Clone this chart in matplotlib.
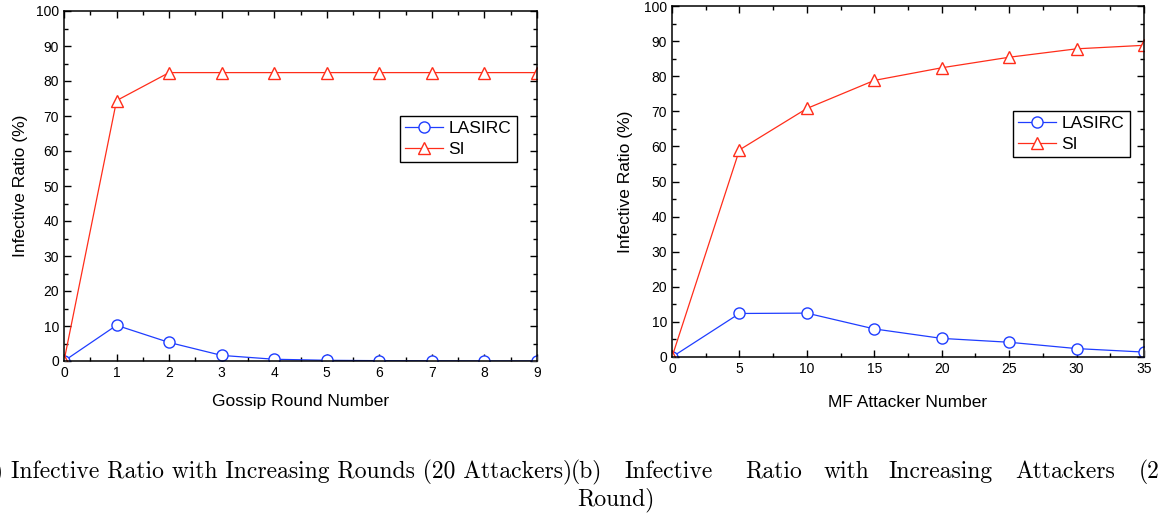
import matplotlib
matplotlib.use("Agg")
import matplotlib.pyplot as plt
from matplotlib.ticker import MultipleLocator

# data
rounds = [0, 1, 2, 3, 4, 5, 6, 7, 8, 9]
lasirc_rounds = [0, 10.2, 5.3, 1.6, 0.5, 0.2, 0.1, 0.05, 0, 0]
si_rounds = [0, 74.4, 82.4, 82.4, 82.4, 82.4, 82.4, 82.4, 82.4, 82.4]

attackers = [0, 5, 10, 15, 20, 25, 30, 35]
lasirc_att = [0, 12.4, 12.5, 8.0, 5.3, 4.2, 2.4, 1.4]
si_att = [0, 59.0, 70.8, 78.8, 82.4, 85.4, 87.8, 88.8]

blue = '#1f3dff'
red = '#ff2d1a'

plt.rcParams['font.family'] = 'Liberation Sans'

fig = plt.figure(figsize=(11.58, 5.14), dpi=100)
W, H = 1158, 514


def box(x0, y0, x1, y1):
    return [x0 / W, 1 - y1 / H, (x1 - x0) / W, (y1 - y0) / H]


def style(ax, xmajor, xminor, xlabel, xpad, ypad):
    ax.set_ylim(0, 100)
    ax.xaxis.set_major_locator(MultipleLocator(xmajor))
    ax.xaxis.set_minor_locator(MultipleLocator(xminor))
    ax.yaxis.set_major_locator(MultipleLocator(10))
    ax.yaxis.set_minor_locator(MultipleLocator(5))
    ax.tick_params(which='both', direction='in', top=True, right=True, labelsize=10, width=1)
    ax.tick_params(which='major', length=5)
    ax.tick_params(which='minor', length=3)
    for s in ax.spines.values():
        s.set_linewidth(1.1)
    ax.set_xlabel(xlabel, fontsize=12.5, labelpad=xpad)
    ax.set_ylabel('Infective Ratio (%)', fontsize=12.5, labelpad=ypad)


def add_legend(ax, anchor):
    leg = ax.legend(loc='upper left', bbox_to_anchor=anchor, fontsize=12.5, fancybox=False,
                    edgecolor='black', framealpha=1, handlelength=2.2, handletextpad=0.3,
                    borderpad=0.3, labelspacing=0.3, borderaxespad=0)
    leg.get_frame().set_linewidth(1)


ax1 = fig.add_axes(box(64, 11, 537, 361))
ax1.plot(rounds, lasirc_rounds, color=blue, lw=0.9, marker='o', ms=8, mfc='white', mec=blue, mew=1, label='LASIRC')
ax1.plot(rounds, si_rounds, color=red, lw=0.9, marker='^', ms=9, mfc='white', mec=red, mew=1, label='SI')
ax1.set_xlim(0, 9)
style(ax1, 1, 0.5, 'Gossip Round Number', 10, 6)
add_legend(ax1, ((400 - 64) / 473, (361 - 116) / 350))

ax2 = fig.add_axes(box(672, 6, 1144, 357))
ax2.plot(attackers, lasirc_att, color=blue, lw=0.9, marker='o', ms=8, mfc='white', mec=blue, mew=1, label='LASIRC')
ax2.plot(attackers, si_att, color=red, lw=0.9, marker='^', ms=9, mfc='white', mec=red, mew=1, label='SI')
ax2.set_xlim(0, 35)
style(ax2, 5, 2.5, 'MF Attacker Number', 14, 8)
add_legend(ax2, ((1013 - 672) / 472, (357 - 111) / 351))

# caption (cropped on both sides, as in the reference)
cap = dict(fontname='cmr10', fontsize=17, va='baseline')
y1 = 1 - 478 / H
fig.text(4 / W, y1, '(a)', ha='right', **cap)
fig.text(11 / W, y1, 'Infective Ratio with Increasing Rounds (20 Attackers)', **cap)
words = [('(b)', 571), ('Infective', 624), ('Ratio', 745), ('with', 824), ('Increasing', 888),
         ('Attackers', 1015), ('(2', 1139)]
for w, x in words:
    fig.text(x / W, y1, w, **cap)
fig.text(577 / W, 1 - 505 / H, 'Round)', **cap)

fig.savefig('out.png', dpi=100)
